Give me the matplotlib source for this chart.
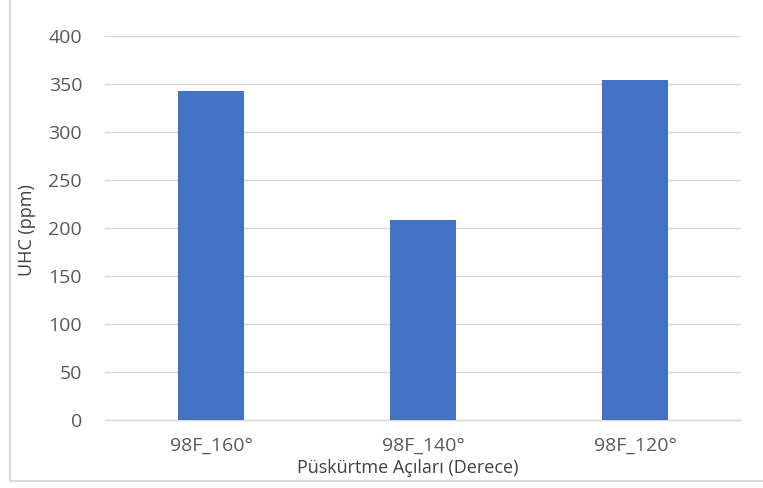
import matplotlib
matplotlib.use("Agg")
import matplotlib.pyplot as plt
from matplotlib.patches import Rectangle

categories = ["98F_160°", "98F_140°", "98F_120°"]
values = [343, 208, 354]
yticks = [0, 50, 100, 150, 200, 250, 300, 350, 400]

plt.rcParams['font.family'] = ['Open Sans', 'DejaVu Sans']

fig = plt.figure(figsize=(7.63, 4.88), dpi=100)
W, H = 763, 488
ax = fig.add_axes([105 / W, 1 - 420 / H, (741 - 105) / W, (420 - 36) / H])

x = list(range(len(categories)))
ax.bar(x, values, width=0.31, color="#4472C4", zorder=3)
ax.set_xlim(-0.5, len(categories) - 0.5)
ax.set_ylim(0, 400)
ax.set_yticks(yticks)
ax.set_xticks(x)
ax.set_xticklabels(categories)
ax.grid(axis="y", color="#D9D9D9", linewidth=1.0, zorder=0)
for s in ["top", "right", "left"]:
    ax.spines[s].set_visible(False)
ax.spines["bottom"].set_color("#D9D9D9")
ax.spines["bottom"].set_linewidth(1.0)
ax.tick_params(axis="both", length=0, colors="#595959", labelsize=14)
ax.tick_params(axis="y", pad=16.5)
ax.tick_params(axis="x", pad=12)

fig.text(27 / W, 1 - 230 / H, "UHC (ppm)", rotation=90, ha="center", va="center",
         fontsize=13, color="#404040")
fig.text(408 / W, 1 - 468 / H, "Püskürtme Açıları (Derece)", ha="center", va="center",
         fontsize=13, color="#404040")

fig.patches.append(Rectangle((10 / W, 1 - 481 / H), (800 - 10) / W, (481 + 20) / H,
                             transform=fig.transFigure, fill=False,
                             edgecolor="#D9D9D9", linewidth=1.5))

fig.savefig("out.png", dpi=100)
